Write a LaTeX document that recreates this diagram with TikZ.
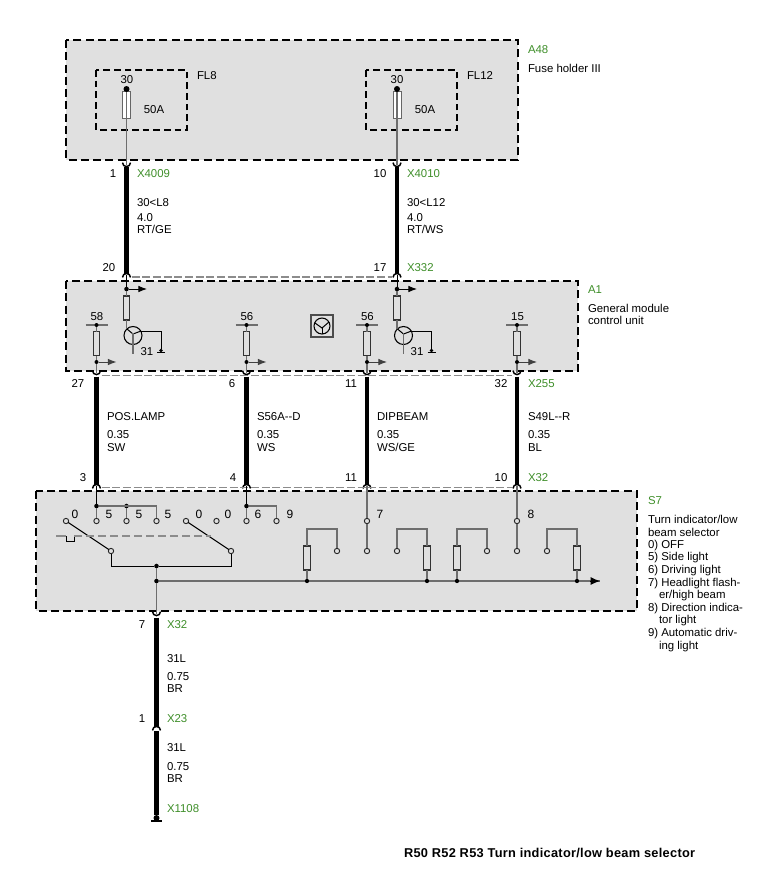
\documentclass[tikz,border=0pt]{standalone}
\usepackage{fontspec}
\setmainfont{Liberation Sans}
\newfontfamily\titlefont[LetterSpace=2.2]{Liberation Sans}
\usetikzlibrary{arrows.meta,calc}
\definecolor{boxgray}{HTML}{E0E0E0}
\definecolor{wiregray}{HTML}{6E6E6E}
\definecolor{refgreen}{HTML}{3F8F2A}
\tikzset{
  x=0.75pt,y=-0.75pt,
  every node/.style={font=\fontsize{8.55}{9.6}\selectfont,inner sep=0pt,outer sep=0pt},
  modbox/.style={draw=black,fill=boxgray,line width=1.6pt,dash pattern=on 6pt off 3.2pt},
  subbox/.style={draw=black,line width=1.4pt,dash pattern=on 5pt off 3pt},
  linkdash/.style={draw=black!45,line width=0.9pt,dash pattern=on 6pt off 2pt},
  mechdash/.style={draw=black!45,line width=1.1pt,dash pattern=on 6pt off 3pt},
  thick wire/.style={line width=3.4pt,draw=black},
  thin wire/.style={line width=0.8pt,draw=wiregray},
  black wire/.style={line width=0.75pt,draw=black},
  res/.style={draw=black!80,fill=boxgray,line width=0.8pt,minimum width=6.5*0.75pt,minimum height=24*0.75pt,rectangle},
  fuse/.style={draw=black!60,fill=white,line width=0.7pt,minimum width=8*0.75pt,minimum height=27*0.75pt,rectangle},
  jdot/.style={circle,fill=black,minimum size=3.4pt},
  contact/.style={circle,draw=black!85,fill=boxgray,line width=0.7pt,minimum size=4pt},
  pin/.style={anchor=center,text height=6.2pt,text depth=0pt},
  tag/.style={anchor=west,text=refgreen,text height=6.2pt,text depth=0pt},
  lab/.style={anchor=west,text height=6.2pt,text depth=0pt},
  flagarrow/.style={black wire,-{Latex[length=6.5pt,width=5pt]}},
  sock/.style={line width=1.1pt,draw=black,fill=none},
}
% pin socket: opens up (u) or down (n), named coordinate at the position
\newcommand{\sockU}[2]{\coordinate (#1) at (#2);\draw[sock] ($(#1)+(-4,-2.4)$) arc[start angle=180,end angle=360,radius=4*0.75pt];}
\newcommand{\sockN}[2]{\coordinate (#1) at (#2);\draw[sock] ($(#1)+(-4,2.4)$) arc[start angle=180,end angle=0,radius=4*0.75pt];}
\begin{document}
\begin{tikzpicture}
\useasboundingbox (0,0) rectangle (775,876);
\fill[white] (0,0) rectangle (775,876);

% ---- module boxes
\draw[modbox] (66,40) rectangle (518,160);
\draw[modbox] (66,281) rectangle (578,371);
\draw[modbox] (36,491) rectangle (637,611);
\draw[subbox] (96,70) rectangle (187,130);
\draw[subbox] (366,70) rectangle (457,130);

% ---- link dashes
\sockN{t20}{126.5,275}
\sockN{t17}{397,275}
\sockU{b27}{96.5,373}
\sockU{b6}{246.5,373}
\sockU{b11}{367,373}
\sockU{b32}{517,373}
\sockN{t3}{96.5,486}
\sockN{t4}{246.5,486}
\sockN{t11}{367,486}
\sockN{t10}{517,486}
\draw[linkdash] ($(t20)+(5,2)$) -- ($(t17)+(-5,2)$);
\draw[linkdash,line width=0.6pt] ($(b27)+(5,2.5)$) -- ($(b32)+(-5,2.5)$);
\draw[linkdash,line width=0.6pt] ($(t3)+(5,1.5)$) -- ($(t10)+(-5,1.5)$);

% ---- fuse holder
\node[fuse] (f1) at (126.5,104.5) {};
\node[fuse] (f2) at (397,104.5) {};
\node[jdot,minimum size=4.5pt] (f1top) at (126.5,89) {};
\node[jdot,minimum size=4.5pt] (f2top) at (397,89) {};
\sockU{x1}{126.5,165}
\sockU{x2}{397,165}
\draw[thin wire] (f1top) -- (x1);
\draw[thin wire] (f2top) -- (x2);
\node[pin] (l30a) at (127,79) {30};
\node[pin] (l30b) at (397,79) {30};
\node[pin] (l50a) at (154,109) {50A};
\node[pin] (l50b) at (425,109) {50A};
\node[lab] (lfl8) at (197,75) {FL8};
\node[lab] (lfl12) at (467,75) {FL12};
\node[tag] (ta48) at (528,49) {A48};
\node[lab] (ta48d) at (528,68) {Fuse holder III};

% ---- thick wires
\draw[thick wire] ($(x1)+(0,1.5)$) -- ($(t20)+(0,-1)$);
\draw[thick wire] ($(x2)+(0,1.5)$) -- ($(t17)+(0,-1)$);
\draw[thick wire] ($(b27)+(0,3.5)$) -- ($(t3)+(0,-1)$);
\draw[thick wire] ($(b6)+(0,3.5)$) -- ($(t4)+(0,-1)$);
\draw[thick wire] ($(b11)+(0,3.5)$) -- ($(t11)+(0,-1)$);
\draw[thick wire] ($(b32)+(0,3.5)$) -- ($(t10)+(0,-1)$);

% ---- wire labels upper
\node[pin] at (113,173) {1};
\node[tag] at (137,173) {X4009};
\node[lab] at (137,202) {30<L8};
\node[lab] at (137,217) {4.0};
\node[lab] at (137,229) {RT/GE};
\node[pin] at (380,173) {10};
\node[tag] at (407,173) {X4010};
\node[lab] at (407,202) {30<L12};
\node[lab] at (407,217) {4.0};
\node[lab] at (407,229) {RT/WS};
\node[pin] at (109,267) {20};
\node[pin] at (380,267) {17};
\node[tag] at (407,267) {X332};

% ---- A1 high-side branches
\node[jdot] (d1) at (126.5,289) {};
\node[jdot] (d2) at (397,289) {};
\coordinate (a1) at (147,289);
\coordinate (a2) at (417,289);
\draw[black wire] (t20) -- (d1);
\draw[black wire] (t17) -- (d2);
\draw[flagarrow] (d1) -- (a1);
\draw[flagarrow] (d2) -- (a2);
\node[res] (r1) at (126.5,308) {};
\node[res] (r2) at (397,308) {};
\draw[thin wire] (d1) -- (r1);
\draw[thin wire] (d2) -- (r2);
\node[circle,draw=black,line width=0.8pt,minimum size=18*0.75pt] (q1) at (133,335.5) {};
\node[circle,draw=black,line width=0.8pt,minimum size=18*0.75pt] (q2) at (403.5,335.5) {};
\draw[thin wire] (r1) -- (126.5,329);
\draw[thin wire] (r2) -- (397,329);
\draw[black wire] (127,329) -- (133,334) -- (141,331);
\draw[black wire] (397.5,329) -- (403.5,334) -- (411.5,331);
\draw[thin wire] (133,333) -- (133,354);
\draw[thin wire] (403.5,333) -- (403.5,354);
\node[jdot,minimum size=2.8pt] (g1) at (161,350.5) {};
\node[jdot,minimum size=2.8pt] (g2) at (431.5,350.5) {};
\draw[black wire] (141,331) -- (161,331) -- (g1);
\draw[black wire] (411.5,331) -- (431.5,331) -- (g2);
\draw[black wire] (157,352.5) -- (165,352.5);
\draw[black wire] (427.5,352.5) -- (435.5,352.5);
\node[pin] at (147,351) {31};
\node[pin] at (417,351) {31};

% ---- A1 input branches
\foreach \n/\x/\p in {a/96.5/58,b/246.5/56,c/367/56,d/517/15}{
  \node[pin] at (\x+0.5,316) {\p};
  \draw[thin wire] (\x-11,325) -- (\x+11,325);
  \node[jdot,minimum size=3pt] (in\n) at (\x,325) {};
  \node[res] (ri\n) at (\x,343.5) {};
  \node[jdot,minimum size=3pt] (out\n) at (\x,362) {};
  \draw[thin wire] (in\n) -- (ri\n);
  \draw[thin wire] (ri\n) -- (out\n);
  \draw[thin wire] (out\n) -- (\x,373);
  \draw[flagarrow,draw=black!75,fill=black] (out\n) -- (\x+20,362);
}

% ---- symbol box
\node[rectangle,draw=black!70,fill=black!12,line width=0.8pt,minimum size=22*0.75pt] (sym) at (322,326) {};
\node[circle,draw=black,line width=0.8pt,minimum size=16*0.75pt] (symc) at (322,326) {};
\draw[black wire] (315,323) -- (322,328) -- (329,322);
\draw[black wire] (322,328) -- (322,334);

% ---- A1 labels
\node[tag] at (588,289) {A1};
\node[lab] at (588,308) {General module};
\node[lab] at (588,320) {control unit};

% ---- middle wire labels
\node[pin] at (78,383) {27};
\node[pin] at (232,383) {6};
\node[pin] at (351,383) {11};
\node[pin] at (501,383) {32};
\node[tag] at (528,383) {X255};
\foreach \x/\a/\c in {107/POS.LAMP/SW,257/S56A-{}-D/WS,377/DIPBEAM/WS\slash GE,528/S49L-{}-R/BL}{
  \node[lab] at (\x,416) {\a};
  \node[lab] at (\x,434) {0.35};
  \node[lab] at (\x,447) {\c};
}
\node[pin] at (83,477) {3};
\node[pin] at (233,477) {4};
\node[pin] at (351,477) {11};
\node[pin] at (501,477) {10};
\node[tag] at (528,477) {X32};

% ---- S7 upper contacts
\node[jdot] (s1) at (96.5,506) {};
\node[jdot] (s2) at (126.5,506) {};
\coordinate (s3) at (156.5,506);
\node[jdot] (s4) at (246.5,506) {};
\coordinate (s5) at (276.5,506);
\node[contact] (c1) at (96.5,521) {};
\node[contact] (c2) at (126.5,521) {};
\node[contact] (c3) at (156.5,521) {};
\node[contact] (c4) at (66,521) {};
\node[contact] (c5) at (186,521) {};
\node[contact] (c6) at (216.5,521) {};
\node[contact] (c7) at (246.5,521) {};
\node[contact] (c8) at (276.5,521) {};
\node[contact] (c9) at (111,551) {};
\node[contact] (c10) at (231,551) {};
\draw[black wire] (t3) -- (s1);
\draw[black wire] (t4) -- (s4);
\draw[thin wire] (s1) -- (c1);
\draw[thin wire] (s2) -- (c2);
\draw[thin wire] (s4) -- (c7);
\draw[thin wire] (s1) -- (s3) -- (c3);
\draw[thin wire] (s4) -- (s5) -- (c8);
\draw[black wire] (c4) -- (c9);
\draw[black wire] (c5) -- (c10);
\foreach \x/\t in {75/0,109/5,139/5,168/5,199/0,228/0,258/6,290/9,380/7,531/8}{
  \node[pin,font=\fontsize{9}{10}\selectfont] at (\x,514) {\t};
}
% mechanical link
\coordinate (m0) at (56,536);
\coordinate (m1) at (66,536);
\coordinate (m2) at (66,541);
\coordinate (m3) at (74,541);
\coordinate (m4) at (74,536);
\coordinate (m5) at (211,536);
\draw[mechdash,dash pattern=] (m0) -- (m1);
\draw[black wire] (m1) -- (m2) -- (m3) -- (m4);
\draw[mechdash] (m4) -- (m5);

% ---- S7 switch outputs
\node[jdot] (j1) at (156.5,566) {};
\node[jdot] (j2) at (156.5,581) {};
\draw[black wire] (c9) |- (j1);
\draw[black wire] (c10) |- (j1);
\draw[thin wire] (j1) -- (j2);
\sockU{b7}{156.5,614}
\draw[thin wire] (j2) -- (b7);
\coordinate (busend) at (600,581);
\draw[thin wire] (j2) -- (busend);
\draw[black wire,-{Latex[length=7pt,width=6pt]}] (590,581) -- (busend);

% ---- S7 resistor groups
\foreach \n/\x/\cx in {p/307/337,q/427/397,r/457/487,s/577/547}{
  \node[jdot,minimum size=3.2pt] (bus\n) at (\x,581) {};
  \node[res] (res\n) at (\x,558) {};
  \node[contact] (con\n) at (\cx,551) {};
  \draw[thin wire] (bus\n) -- (res\n);
  \draw[thin wire] (res\n) |- (\cx,529) -- (con\n);
}
\node[contact] (k1) at (367,521) {};
\node[contact] (k2) at (367,551) {};
\node[contact] (k3) at (517,521) {};
\node[contact] (k4) at (517,551) {};
\draw[thin wire] (t11) -- (k1) -- (k2);
\draw[thin wire] (t10) -- (k3) -- (k4);

% ---- S7 labels
\node[tag] at (648,500) {S7};
\node[lab] at (648,519) {Turn indicator/low};
\node[lab] at (648,532) {beam selector};
\node[lab] at (648,544) {0) OFF};
\node[lab] at (648,556) {5) Side light};
\node[lab] at (648,569) {6) Driving light};
\node[lab] at (648,582) {7) Headlight flash-};
\node[lab] at (659,594) {er/high beam};
\node[lab] at (648,607) {8) Direction indica-};
\node[lab] at (659,619) {tor light};
\node[lab] at (648,632) {9) Automatic driv-};
\node[lab] at (659,645) {ing light};

% ---- lower wires
\sockN{t1}{156.5,728}
\node[jdot,minimum size=4.5pt] (gnd) at (156.5,818) {};
\draw[thick wire] ($(b7)+(0,3.5)$) -- ($(t1)+(0,-1.5)$);
\draw[thick wire] ($(t1)+(0,3)$) -- (gnd);
\draw[line width=1.3pt] (151,821) -- (162,821);
\node[pin] at (142,624) {7};
\node[tag] at (167,624) {X32};
\node[lab] at (167,658) {31L};
\node[lab] at (167,676) {0.75};
\node[lab] at (167,688) {BR};
\node[pin] at (142,718) {1};
\node[tag] at (167,718) {X23};
\node[lab] at (167,747) {31L};
\node[lab] at (167,766) {0.75};
\node[lab] at (167,778) {BR};
\node[tag] at (167,808) {X1108};

% ---- title
\node[anchor=west,font=\titlefont\bfseries\fontsize{9.6}{11}\selectfont] (title) at (404,853) {R50 R52 R53 Turn indicator/low beam selector};
\end{tikzpicture}
\end{document}
